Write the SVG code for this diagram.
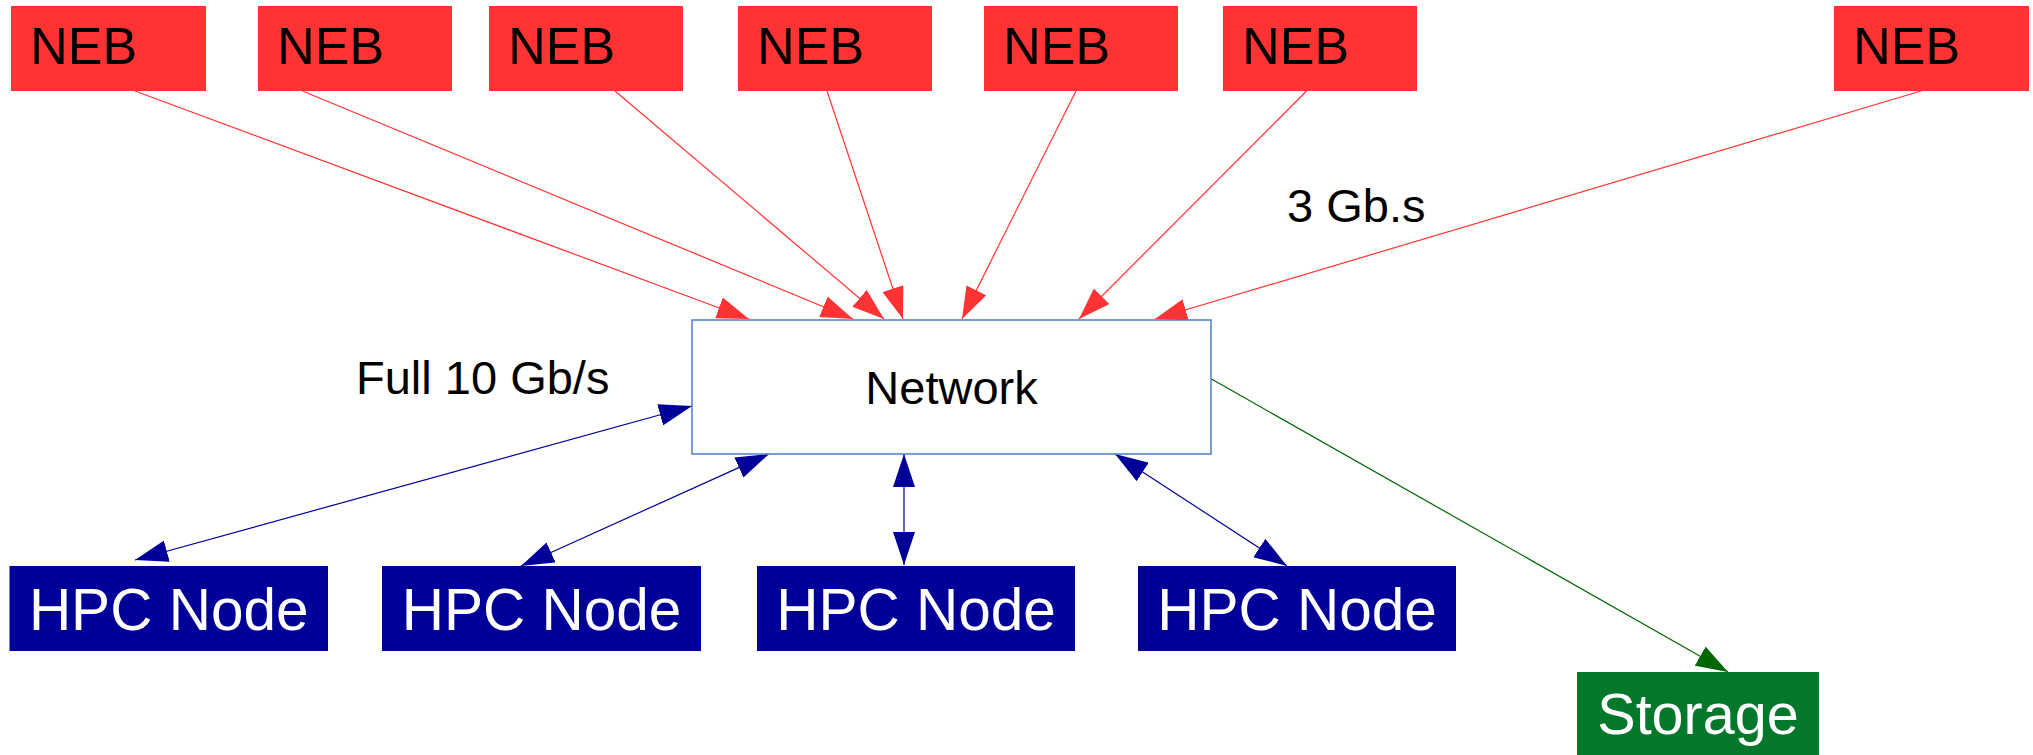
<svg xmlns="http://www.w3.org/2000/svg" width="2033" height="755" viewBox="0 0 2033 755">
<style>
  .neb rect { fill: #ff3333; }
  .neb text { font-family: "Liberation Sans", Arial, sans-serif; font-size: 52px; fill: #000000; }
  .hpc rect { fill: #000099; }
  .hpc text { font-family: "Liberation Sans", Arial, sans-serif; font-size: 58.5px; fill: #ffffff; text-anchor: middle; }
  .lbl { font-family: "Liberation Sans", Arial, sans-serif; font-size: 47px; fill: #000000; }
  .red { stroke: #ff3333; stroke-width: 1.2; fill: none; marker-end: url(#ahRed); }
  .blue { stroke: #000099; stroke-width: 1.2; fill: none; marker-end: url(#ahBlue); marker-start: url(#ahBlue); }
  .green { stroke: #006600; stroke-width: 1.2; fill: none; marker-end: url(#ahGreen); }
</style>
<defs>
  <marker id="ahRed" markerUnits="userSpaceOnUse" markerWidth="32" markerHeight="22" refX="32" refY="11" orient="auto-start-reverse">
    <path d="M0,0 L32,11 L0,22 z" fill="#ff3333"/>
  </marker>
  <marker id="ahBlue" markerUnits="userSpaceOnUse" markerWidth="33" markerHeight="22" refX="33" refY="11" orient="auto-start-reverse">
    <path d="M0,0 L33,11 L0,22 z" fill="#000099"/>
  </marker>
  <marker id="ahGreen" markerUnits="userSpaceOnUse" markerWidth="32" markerHeight="22" refX="32" refY="11" orient="auto-start-reverse">
    <path d="M0,0 L32,11 L0,22 z" fill="#006600"/>
  </marker>
</defs>
<rect x="0" y="0" width="2033" height="755" fill="#ffffff"/>

<g id="connectors">
  <line class="red" x1="135" y1="91" x2="749" y2="319"/>
  <line class="red" x1="302.5" y1="91" x2="853" y2="319"/>
  <line class="red" x1="615" y1="91" x2="884" y2="319"/>
  <line class="red" x1="827" y1="91" x2="903" y2="319"/>
  <line class="red" x1="1076" y1="91" x2="962" y2="319"/>
  <line class="red" x1="1306.5" y1="91" x2="1079" y2="319"/>
  <line class="red" x1="1921" y1="91" x2="1155" y2="319"/>
  <line class="blue" x1="135" y1="560" x2="692" y2="406"/>
  <line class="blue" x1="521" y1="566" x2="769" y2="454"/>
  <line class="blue" x1="904" y1="565" x2="904" y2="454"/>
  <line class="blue" x1="1287" y1="566" x2="1115" y2="454"/>
  <line class="green" x1="1211.5" y1="379" x2="1728" y2="672"/>
</g>

<g id="neb1" class="neb"><rect x="11" y="6" width="195" height="85"/><text x="30.3" y="64">NEB</text></g>
<g id="neb2" class="neb"><rect x="258" y="6" width="194" height="85"/><text x="277.3" y="64">NEB</text></g>
<g id="neb3" class="neb"><rect x="489" y="6" width="194" height="85"/><text x="508.3" y="64">NEB</text></g>
<g id="neb4" class="neb"><rect x="738" y="6" width="194" height="85"/><text x="757.3" y="64">NEB</text></g>
<g id="neb5" class="neb"><rect x="984" y="6" width="194" height="85"/><text x="1003.3" y="64">NEB</text></g>
<g id="neb6" class="neb"><rect x="1223" y="6" width="194" height="85"/><text x="1242.3" y="64">NEB</text></g>
<g id="neb7" class="neb"><rect x="1834" y="6" width="195" height="85"/><text x="1853.3" y="64">NEB</text></g>

<g id="network">
  <rect x="692" y="320" width="519" height="134" fill="#ffffff" stroke="#4f7fc0" stroke-width="1.5"/>
  <text x="951.5" y="404" class="lbl" text-anchor="middle">Network</text>
</g>

<g id="hpc1" class="hpc"><rect x="9.5" y="566" width="318.5" height="85"/><text x="168.7" y="629.5">HPC Node</text></g>
<g id="hpc2" class="hpc"><rect x="382" y="566" width="319" height="85"/><text x="541.5" y="629.5">HPC Node</text></g>
<g id="hpc3" class="hpc"><rect x="757" y="566" width="318" height="85"/><text x="916" y="629.5">HPC Node</text></g>
<g id="hpc4" class="hpc"><rect x="1138" y="566" width="318" height="85"/><text x="1297" y="629.5">HPC Node</text></g>

<g id="storage">
  <rect x="1577" y="672" width="242" height="85" fill="#03782a"/>
  <text x="1698" y="734" font-family="Liberation Sans, Arial, sans-serif" font-size="57.5" fill="#ffffff" text-anchor="middle">Storage</text>
</g>

<g id="labels">
  <text class="lbl" x="1287" y="222">3 Gb.s</text>
  <text class="lbl" x="356" y="394">Full 10 Gb/s</text>
</g>
</svg>
